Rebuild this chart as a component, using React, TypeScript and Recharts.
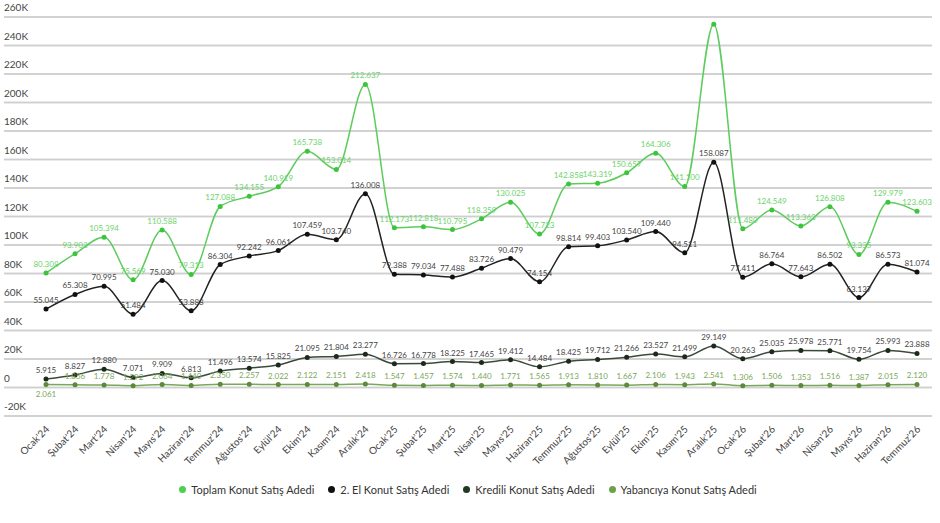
import React from "react";
import { LineChart, Line, XAxis, YAxis, ReferenceLine, CartesianGrid, Legend, LabelList } from "recharts";

const months = [
  "Ocak'24", "Şubat'24", "Mart'24", "Nisan'24", "Mayıs'24", "Haziran'24", "Temmuz'24", "Ağustos'24",
  "Eylül'24", "Ekim'24", "Kasım'24", "Aralık'24", "Ocak'25", "Şubat'25", "Mart'25", "Nisan'25",
  "Mayıs'25", "Haziran'25", "Temmuz'25", "Ağustos'25", "Eylül'25", "Ekim'25", "Kasım'25", "Aralık'25",
  "Ocak'26", "Şubat'26", "Mart'26", "Nisan'26", "Mayıs'26", "Haziran'26", "Temmuz'26",
];

const toplam = [
  80308, 93903, 105394, 75569, 110588, 79313, 127088, 134155, 140919, 165738, 153014, 212637,
  112173, 112818, 110795, 118359, 130025, 107723, 142858, 143319, 150657, 164306, 141100, 255000,
  111480, 124549, 113363, 126808, 93335, 129979, 123603,
];
const ikinciEl = [
  55045, 65308, 70995, 51484, 75030, 53888, 86304, 92242, 96061, 107459, 103740, 136008,
  79388, 79034, 77488, 83726, 90479, 74154, 98814, 99403, 103540, 109440, 94511, 158087,
  77411, 86764, 77643, 86502, 63137, 86573, 81074,
];
const kredili = [
  5915, 8827, 12880, 7071, 9909, 6813, 11496, 13574, 15825, 21095, 21804, 23277,
  16726, 16778, 18225, 17465, 19412, 14484, 18425, 19712, 21266, 23527, 21499, 29149,
  20263, 25035, 25978, 25771, 19754, 25993, 23888,
];
const yabanci = [
  2061, 1856, 1778, 1292, 2064, 1440, 2350, 2257, 2022, 2122, 2151, 2418,
  1547, 1457, 1574, 1440, 1771, 1565, 1913, 1810, 1667, 2106, 1943, 2541,
  1306, 1506, 1353, 1516, 1387, 2015, 2120,
];
const yTicks = [-20000, 0, 20000, 40000, 60000, 80000, 100000, 120000, 140000, 160000, 180000, 200000, 220000, 240000, 260000];
const seriesNames = [
  "Toplam Konut Satış Adedi",
  "2. El Konut Satış Adedi",
  "Kredili Konut Satış Adedi",
  "Yabancıya Konut Satış Adedi",
];
const seriesColors = ["#4fcf4f", "#111111", "#1f3a1f", "#6aa24a"];

const data = months.map((m, i) => ({
  month: m,
  toplam: toplam[i],
  ikinciEl: ikinciEl[i],
  kredili: kredili[i],
  yabanci: yabanci[i],
}));

const font = "Lato, 'Open Sans', sans-serif";
const fmt = (v: number) => v.toLocaleString("tr-TR");
const tickText = (v: number) => (v === 0 ? "0" : `${v / 1000}K`);

const makeLabel = (color: string, belowFirst = false) => (props: any) => {
  const { x, y, value, index } = props;
  if (value >= 250000) return <g />; // clipped in the source
  const below = belowFirst && index === 0;
  return (
    <text x={x} y={below ? y + 12 : y - 6} textAnchor="middle" fontSize={8} fill={color} fontFamily={font}>
      {fmt(value)}
    </text>
  );
};

const XTick = ({ x, y, payload }: any) => (
  <text x={x + 4} y={y + 6} transform={`rotate(-45 ${x + 4} ${y + 6})`} textAnchor="end" fontSize={10} fill="#444" fontFamily={font}>
    {payload.value}
  </text>
);

const LegendContent = () => (
  <div style={{ display: "flex", justifyContent: "center", gap: 14, fontSize: 11, fontFamily: font, color: "#333" }}>
    {seriesNames.map((n, i) => (
      <span key={n} style={{ display: "flex", alignItems: "center", gap: 5 }}>
        <span style={{ width: 7, height: 7, borderRadius: "50%", background: seriesColors[i], display: "inline-block" }} />
        {n}
      </span>
    ))}
  </div>
);

export default function App() {
  return (
    <div style={{ position: "absolute", left: 0, top: 0, width: 940, height: 523, background: "#fff" }}>
      <LineChart width={940} height={523} data={data} margin={{ top: 17, right: 8, bottom: 0, left: 4 }}>
        <CartesianGrid vertical={false} horizontalValues={yTicks} stroke="#cfcfcf" strokeWidth={1.5} />
        <XAxis
          dataKey="month"
          interval={0}
          height={67}
          axisLine={false}
          tickLine={false}
          padding={{ left: 42, right: 15 }}
          tick={<XTick />}
        />
        <YAxis hide domain={[-20000, 260000]} ticks={yTicks} />
        {yTicks.map((v) => (
          <ReferenceLine
            key={v}
            y={v}
            stroke="#cfcfcf"
            strokeWidth={1.5}
            label={{ value: tickText(v), position: "insideTopLeft", offset: 0, dy: -13, fontSize: 10, fill: "#444", fontFamily: font }}
          />
        ))}
        <Legend verticalAlign="bottom" height={40} content={<LegendContent />} />
        <Line type="monotone" dataKey="toplam" name={seriesNames[0]} stroke="#5ccc5c" strokeWidth={1.5}
          dot={{ r: 2.5, fill: "#3cc43c", stroke: "none" }} isAnimationActive={false}>
          <LabelList dataKey="toplam" content={makeLabel("#6bd36b")} />
        </Line>
        <Line type="monotone" dataKey="ikinciEl" name={seriesNames[1]} stroke="#222" strokeWidth={1.5}
          dot={{ r: 2.5, fill: "#111", stroke: "none" }} isAnimationActive={false}>
          <LabelList dataKey="ikinciEl" content={makeLabel("#444")} />
        </Line>
        <Line type="monotone" dataKey="kredili" name={seriesNames[2]} stroke="#3a4a3a" strokeWidth={1.5}
          dot={{ r: 2.5, fill: "#1c2a1c", stroke: "none" }} isAnimationActive={false}>
          <LabelList dataKey="kredili" content={makeLabel("#444")} />
        </Line>
        <Line type="monotone" dataKey="yabanci" name={seriesNames[3]} stroke="#7aa85a" strokeWidth={1.5}
          dot={{ r: 2.5, fill: "#5a8a3a", stroke: "none" }} isAnimationActive={false}>
          <LabelList dataKey="yabanci" content={makeLabel("#7aa85a", true)} />
        </Line>
      </LineChart>
    </div>
  );
}
